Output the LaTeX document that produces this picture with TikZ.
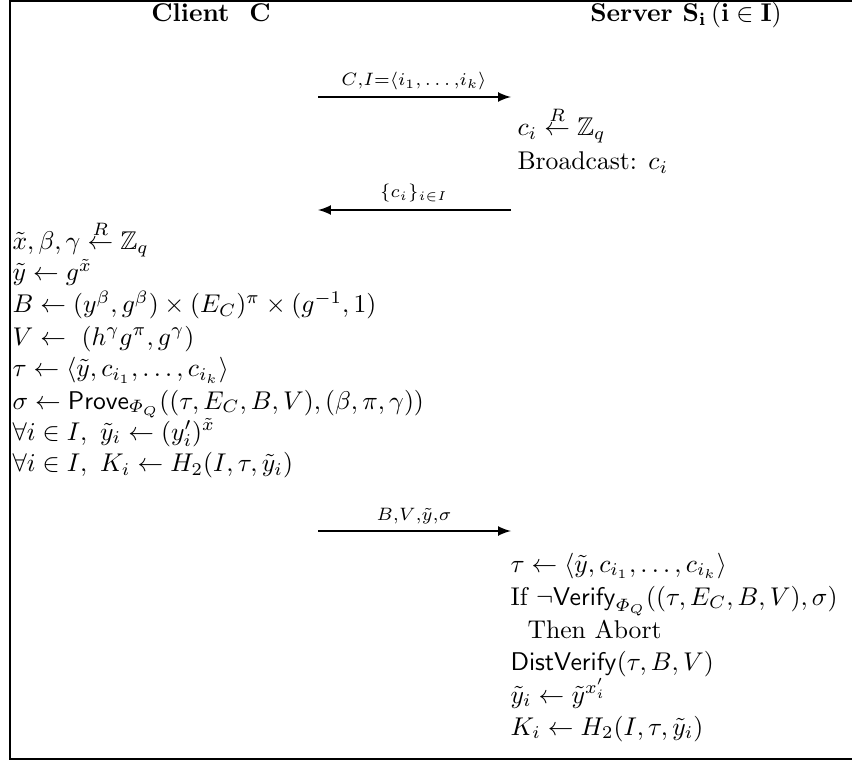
\documentclass[tikz,border=0pt]{standalone}
\usepackage{amsfonts, amsmath, amssymb}
\tikzstyle{txt}=[anchor=base west, inner sep=0pt, text height=8.5pt, text depth=3pt]
\tikzstyle{lbl}=[anchor=base, inner sep=0pt, font=\scriptsize]
\tikzstyle{msg}=[line width=0.75pt, -latex]

\begin{document}
\begin{tikzpicture}[x=0.39pt, y=-0.39pt]
        \useasboundingbox (0,0) rectangle (852,761);
        \draw[line width=1pt] (860,1) -- (10,1) -- (10,759) -- (860,759);
        % headings
        \node[anchor=base, inner sep=0pt] (cli) at (211,22) {\textbf{Client\ \ C}};
        \node[anchor=base, inner sep=0pt] (srv) at (686,22) {\textbf{Server $\mathbf{S_i\,(i\in I)}$}};
        % first message
        \coordinate (m1a) at (318,97);
        \coordinate (m1b) at (511,97);
        \draw[msg] (m1a) -- (m1b);
        \node[lbl] (l1) at (414,86) {$C{,}I{=}\langle i_1{,}\ldots{,}i_k\rangle$};
        \node[txt] (s1) at (517,136) {$c_i \stackrel{R}{\leftarrow} \mathbb{Z}_q$};
        \node[txt] (s2) at (517,170) {Broadcast: $c_i$};
        % second message
        \coordinate (m2a) at (511,210);
        \coordinate (m2b) at (318,210);
        \draw[msg] (m2a) -- (m2b);
        \node[lbl] (l2) at (414,198) {$\{c_i\}_{i\in I}$};
        % client side
        \node[txt] (c1) at (12,250) {$\tilde{x},\beta,\gamma \stackrel{R}{\leftarrow} \mathbb{Z}_q$};
        \node[txt] (c2) at (12,281) {$\tilde{y} \leftarrow g^{\tilde{x}}$};
        \node[txt] (c3) at (12,313) {$B \leftarrow (y^\beta, g^\beta) \times (E_C)^\pi \times (g^{-1},1)$};
        \node[txt] (c4) at (12,345) {$V \leftarrow\ (h^\gamma g^\pi, g^\gamma)$};
        \node[txt] (c5) at (12,377) {$\tau \leftarrow \langle \tilde{y}, c_{i_1}, \ldots, c_{i_k}\rangle$};
        \node[txt] (c6) at (12,409) {$\sigma \leftarrow \mathsf{Prove}_{\varPhi_Q}((\tau,E_C,B,V),(\beta,\pi,\gamma))$};
        \node[txt] (c7) at (12,440) {$\forall i\in I,\ \tilde{y}_i \leftarrow (y'_i)^{\tilde{x}}$};
        \node[txt] (c8) at (12,472) {$\forall i\in I,\ K_i \leftarrow H_2(I,\tau,\tilde{y}_i)$};
        % third message
        \coordinate (m3a) at (318,531);
        \coordinate (m3b) at (511,531);
        \draw[msg] (m3a) -- (m3b);
        \node[lbl] (l3) at (414,520) {$B{,}V{,}\tilde{y}{,}\sigma$};
        % server side
        \node[txt] (s3) at (510,572) {$\tau \leftarrow \langle \tilde{y}, c_{i_1}, \ldots, c_{i_k}\rangle$};
        \node[txt] (s4) at (510,605) {If $\neg\mathsf{Verify}_{\varPhi_Q}((\tau,E_C,B,V),\sigma)$};
        \node[txt] (s5) at (510,638) {\ \ Then Abort};
        \node[txt] (s6) at (510,670) {$\mathsf{DistVerify}(\tau,B,V)$};
        \node[txt] (s7) at (510,703) {$\tilde{y}_i \leftarrow \tilde{y}^{x'_i}$};
        \node[txt] (s8) at (510,735) {$K_i \leftarrow H_2(I,\tau,\tilde{y}_i)$};
\end{tikzpicture}
\end{document}
